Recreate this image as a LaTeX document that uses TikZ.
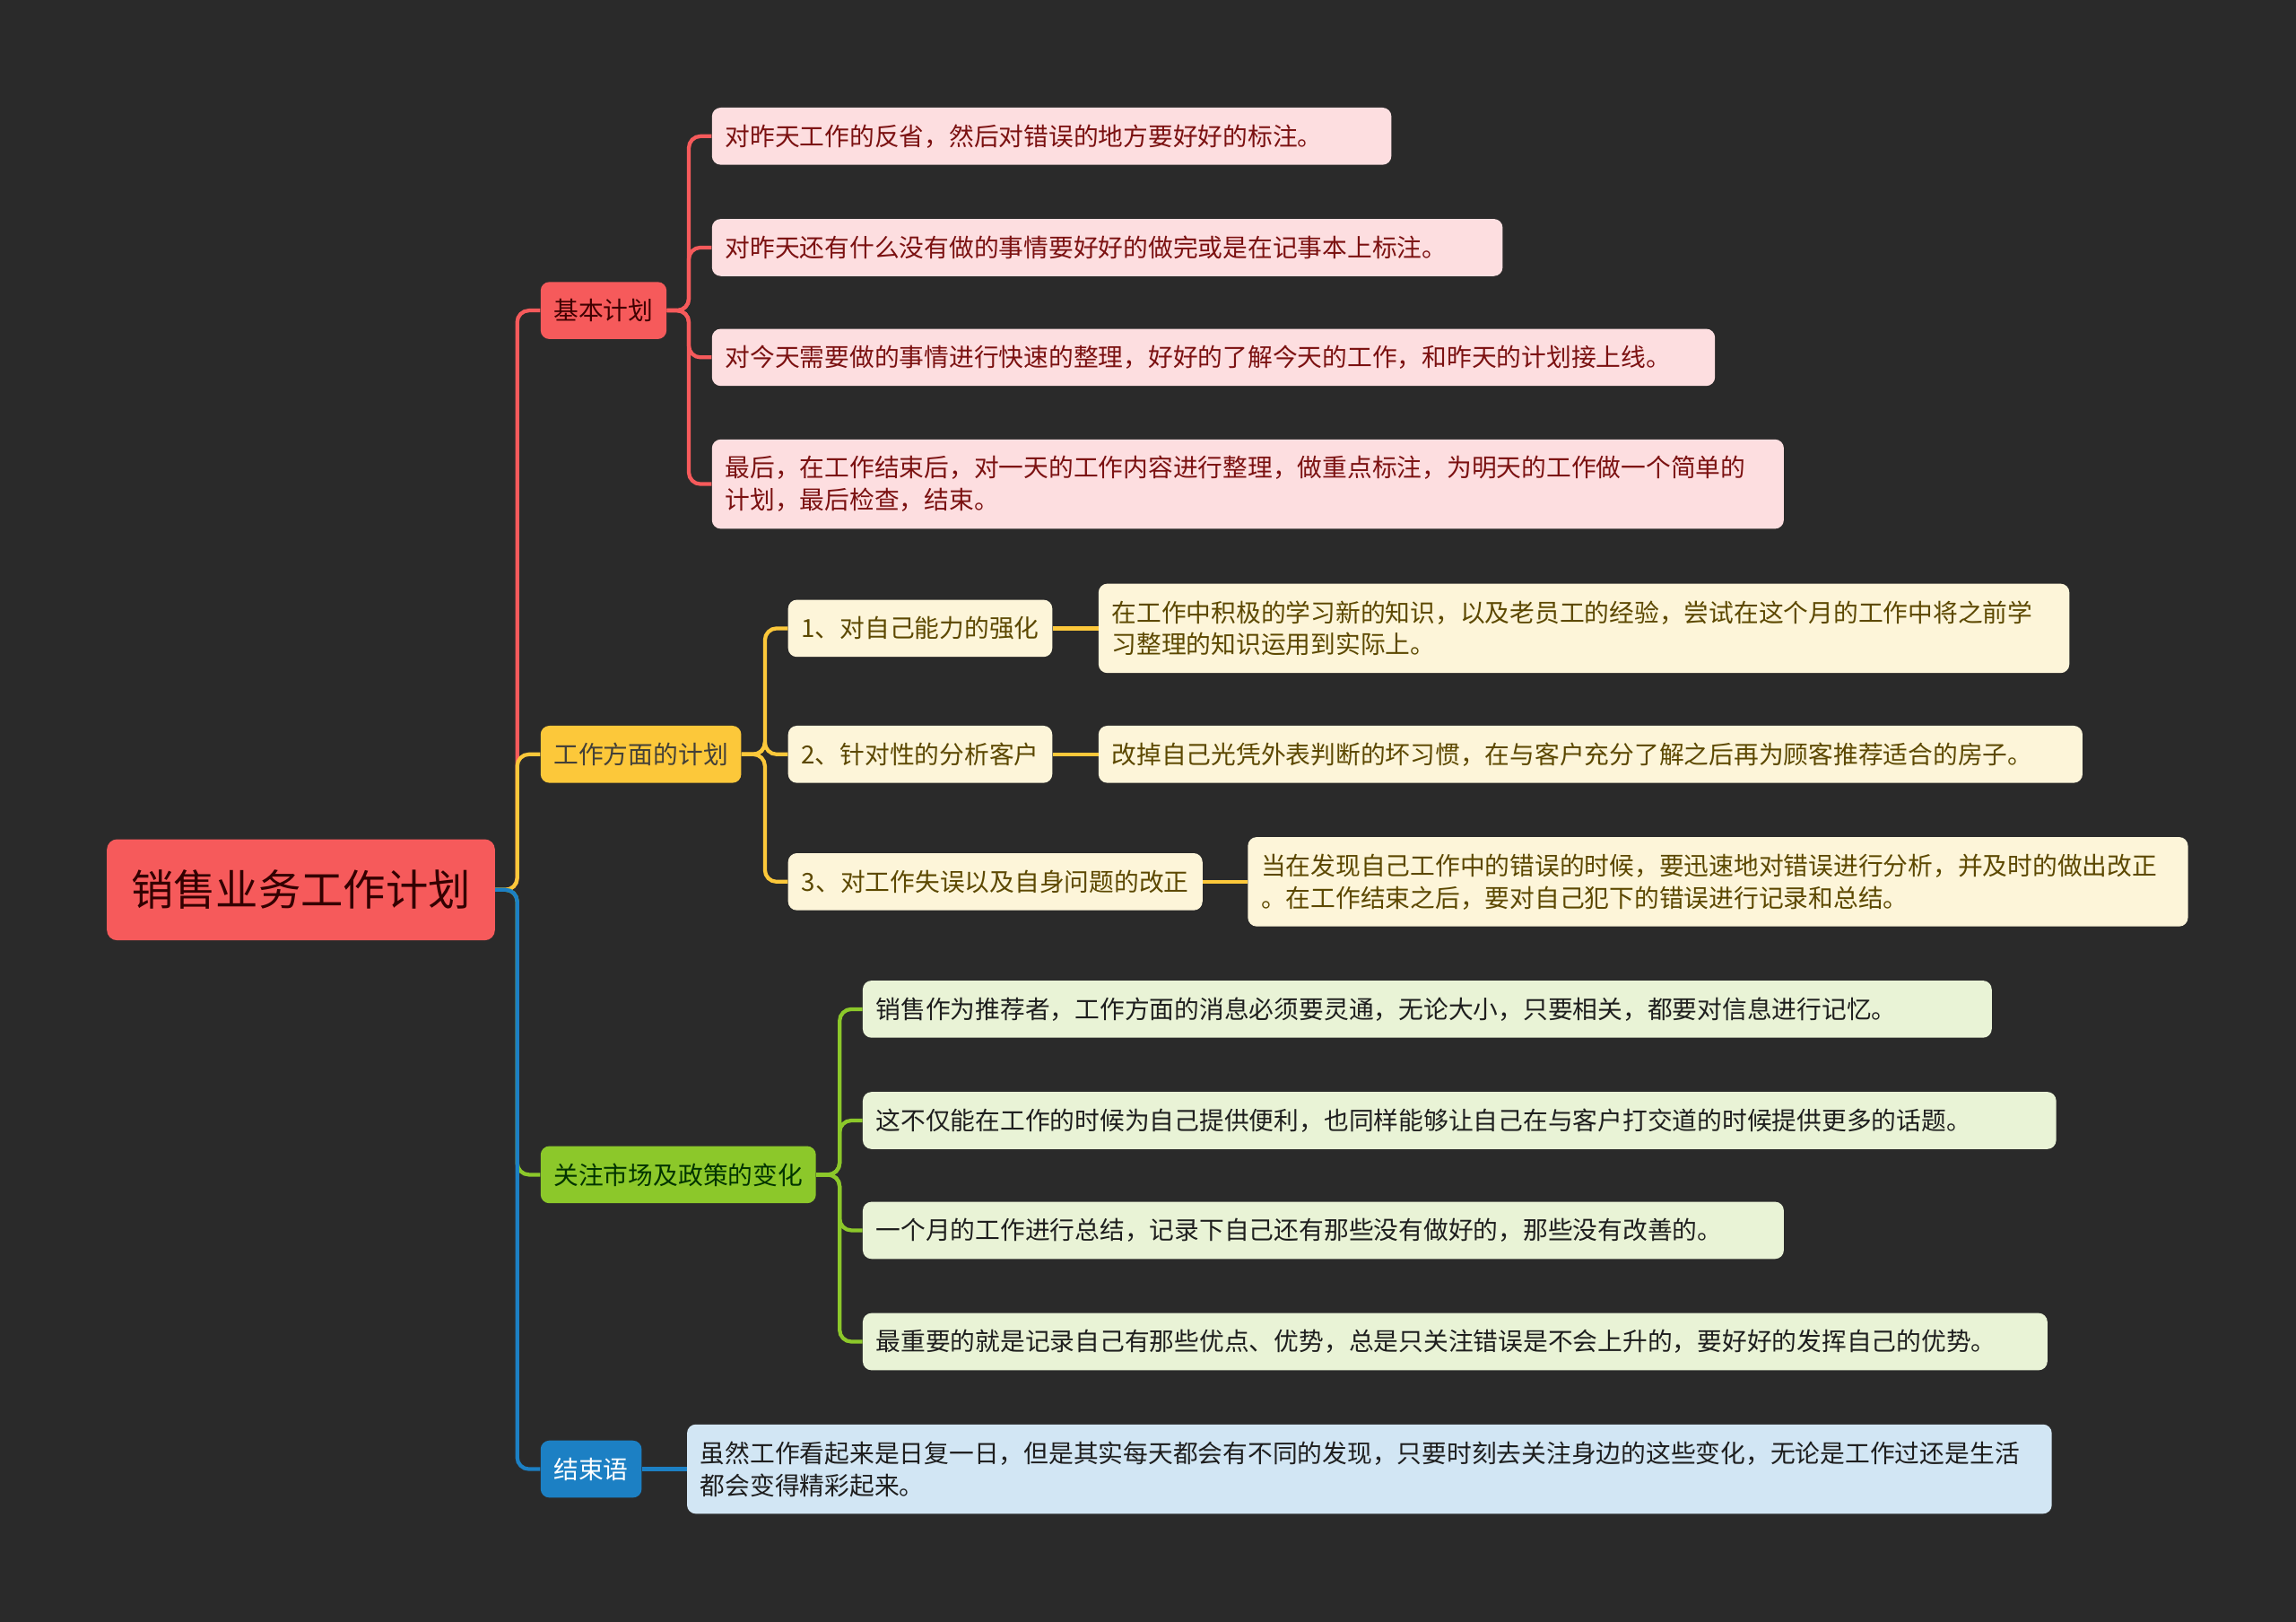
\documentclass[tikz,border=0pt]{standalone}
\usepackage{fontspec}
\setmainfont{Noto Sans CJK SC}
\definecolor{bg}{HTML}{2A2A2A}
\definecolor{cred}{HTML}{F65A5B}
\definecolor{cyel}{HTML}{FCC83A}
\definecolor{cgrn}{HTML}{8CC82A}
\definecolor{cblu}{HTML}{1C80C4}
\definecolor{lred}{HTML}{FDDEE0}
\definecolor{lyel}{HTML}{FDF5D9}
\definecolor{lgrn}{HTML}{E9F3D6}
\definecolor{lblu}{HTML}{D2E6F4}
\definecolor{tred}{HTML}{7B1111}
\definecolor{tyel}{HTML}{5C4800}
\definecolor{tdark}{HTML}{1E1E1E}
\begin{document}
\begin{tikzpicture}[x=1pt,y=-1pt,
  box/.style={anchor=west, rounded corners=6pt, inner xsep=9pt, inner ysep=0pt,
    minimum height=39pt, font=\fontsize{17}{22}\selectfont, align=left},
  wbox/.style={box, text width=#1-18pt},
  redleaf/.style={wbox=#1, fill=lred, text=tred},
  yelleaf/.style={wbox=#1, fill=lyel, text=tyel},
  grnleaf/.style={wbox=#1, fill=lgrn, text=tdark},
  bluleaf/.style={wbox=#1, fill=lblu, text=tdark},
  branch/.style={box, minimum width=#1},
  link/.style={line width=2.6pt, rounded corners=8pt},
]
\useasboundingbox (0,0) rectangle (1568,1107);
\fill[bg] (-3,-3) rectangle (1571,1110);

% root
\node[rounded corners=7pt, fill=cred, text=black!80!red, minimum width=265pt, minimum height=69pt,
  inner sep=0pt, font=\fontsize{29}{34}\selectfont] (root) at (205.5,607.5) {销售业务工作计划};

% main branches
\node[branch=86pt, fill=cred, text=black!75!red] (kb) at (369,212) {基本计划};
\node[branch=137pt, fill=cyel, text=black!85!yellow] (gz) at (369,515) {工作方面的计划};
\node[branch=188pt, fill=cgrn, text=black!80!green] (gs) at (369,802) {关注市场及政策的变化};
\node[branch=68pt, fill=cblu, text=white] (js) at (369,1003) {结束语};

% red leaves
\node[redleaf=464pt] (r1) at (486,93) {对昨天工作的反省，然后对错误的地方要好好的标注。};
\node[redleaf=540pt] (r2) at (486,169) {对昨天还有什么没有做的事情要好好的做完或是在记事本上标注。};
\node[redleaf=685pt] (r3) at (486,244) {对今天需要做的事情进行快速的整理，好好的了解今天的工作，和昨天的计划接上线。};
\node[redleaf=732pt, minimum height=61pt] (r4) at (486,330.5) {最后，在工作结束后，对一天的工作内容进行整理，做重点标注，为明天的工作做一个简单的\\计划，最后检查，结束。};

% yellow sub nodes
\node[branch=180pt, fill=lyel, text=tyel] (y1) at (538,429) {1、对自己能力的强化};
\node[branch=180pt, fill=lyel, text=tyel] (y2) at (538,515) {2、针对性的分析客户};
\node[branch=283pt, fill=lyel, text=tyel] (y3) at (538,602) {3、对工作失误以及自身问题的改正};

\node[yelleaf=663pt, minimum height=61pt] (yl1) at (750,429) {在工作中积极的学习新的知识，以及老员工的经验，尝试在这个月的工作中将之前学\\习整理的知识运用到实际上。};
\node[yelleaf=672pt] (yl2) at (750,515) {改掉自己光凭外表判断的坏习惯，在与客户充分了解之后再为顾客推荐适合的房子。};
\node[yelleaf=642pt, minimum height=61pt] (yl3) at (852,602) {当在发现自己工作中的错误的时候，要迅速地对错误进行分析，并及时的做出改正\\。在工作结束之后，要对自己犯下的错误进行记录和总结。};

% green leaves
\node[grnleaf=771pt] (g1) at (589,689) {销售作为推荐者，工作方面的消息必须要灵通，无论大小，只要相关，都要对信息进行记忆。};
\node[grnleaf=815pt] (g2) at (589,765) {这不仅能在工作的时候为自己提供便利，也同样能够让自己在与客户打交道的时候提供更多的话题。};
\node[grnleaf=629pt] (g3) at (589,840) {一个月的工作进行总结，记录下自己还有那些没有做好的，那些没有改善的。};
\node[grnleaf=809pt] (g4) at (589,916) {最重要的就是记录自己有那些优点、优势，总是只关注错误是不会上升的，要好好的发挥自己的优势。};

% blue leaf
\node[bluleaf=932pt, minimum height=61pt] (b1) at (469,1003) {虽然工作看起来是日复一日，但是其实每天都会有不同的发现，只要时刻去关注身边的这些变化，无论是工作过还是生活\\都会变得精彩起来。};

% connectors root -> branches
\draw[link, cred] (root.east) -- ++(15,0) |- (kb.west);
\draw[link, cyel] (root.east) -- ++(15,0) |- (gz.west);
\draw[link, cgrn] (root.east) -- ++(15,0) |- (gs.west);
\draw[link, cblu] (root.east) -- ++(15,0) |- (js.west);

% red
\foreach \n in {r1,r2,r3,r4} \draw[link, cred] (kb.east) -- ++(15,0) |- (\n.west);
% yellow
\foreach \n in {y1,y2,y3} \draw[link, cyel] (gz.east) -- ++(16,0) |- (\n.west);
\draw[link, cyel] (y1.east) -- (yl1.west);
\draw[link, cyel] (y2.east) -- (yl2.west);
\draw[link, cyel] (y3.east) -- (yl3.west);
% green
\foreach \n in {g1,g2,g3,g4} \draw[link, cgrn] (gs.east) -- ++(16,0) |- (\n.west);
% blue
\draw[link, cblu] (js.east) -- (b1.west);
\end{tikzpicture}
\end{document}
